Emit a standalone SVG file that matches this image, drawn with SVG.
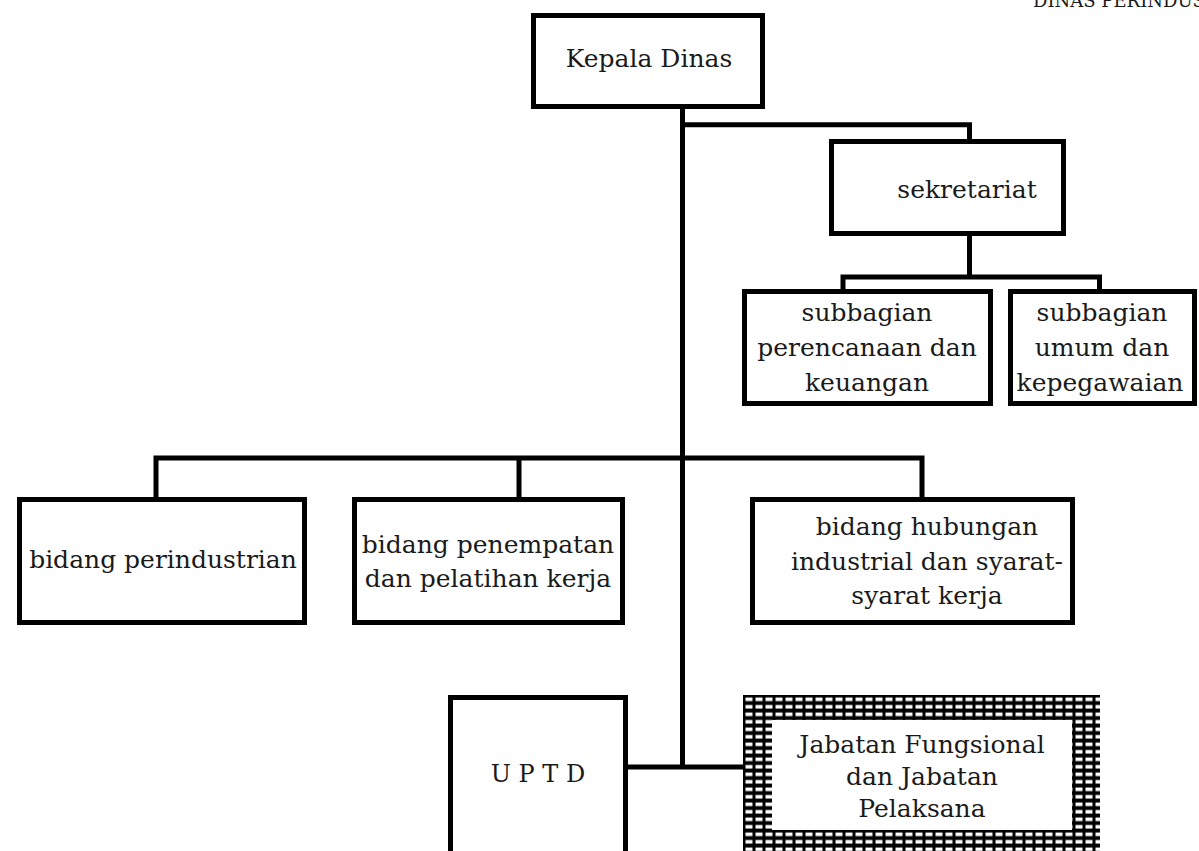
<svg xmlns="http://www.w3.org/2000/svg" width="1199" height="851" viewBox="0 0 1199 851">
<defs>
<style>
.box{fill:#fff;stroke:#000;stroke-width:5}
.ln{fill:none;stroke:#000;stroke-width:5;stroke-linejoin:miter}
text{font-family:"DejaVu Serif","Liberation Serif",serif;font-size:25px;fill:#1a1a1a;text-anchor:middle}
</style>
<pattern id="grid" width="10" height="7.5" patternUnits="userSpaceOnUse" x="743" y="695">
<rect width="10" height="7.5" fill="#000"/>
<rect x="2.5" y="2.5" width="7" height="3.6" fill="#fff"/>
</pattern>
</defs>
<rect width="1199" height="851" fill="#fff"/>
<text x="1033" y="7" style="text-anchor:start;font-size:18px">DINAS PERINDUST</text>
<g id="connectors">
<path class="ln" d="M682.5 109 V769"/>
<path class="ln" d="M682.5 124.7 H969.5 V139"/>
<path class="ln" d="M969.5 236 V277"/>
<path class="ln" d="M843 289 V277 H1099.5 V289"/>
<path class="ln" d="M156 497 V458 H922 V497"/>
<path class="ln" d="M519 458 V497"/>
<path class="ln" d="M628 767 H743"/>
</g>
<g id="kepala">
<rect class="box" x="533.5" y="15.5" width="229" height="91"/>
<text x="649" y="67">Kepala Dinas</text>
</g>
<g id="sekretariat">
<rect class="box" x="831.5" y="141.5" width="232" height="92"/>
<text x="967" y="198">sekretariat</text>
</g>
<g id="sub1">
<rect class="box" x="744.5" y="291.5" width="246" height="112"/>
<text x="867" y="321">subbagian</text>
<text x="867" y="356">perencanaan dan</text>
<text x="867" y="391">keuangan</text>
</g>
<g id="sub2">
<rect class="box" x="1010.5" y="291.5" width="184" height="112"/>
<text x="1102" y="321">subbagian</text>
<text x="1102" y="356">umum dan</text>
<text x="1100" y="391">kepegawaian</text>
</g>
<g id="bidang1">
<rect class="box" x="19.5" y="499.5" width="285" height="123"/>
<text x="163" y="568">bidang perindustrian</text>
</g>
<g id="bidang2">
<rect class="box" x="354.5" y="499.5" width="268" height="123"/>
<text x="488" y="553">bidang penempatan</text>
<text x="488" y="587">dan pelatihan kerja</text>
</g>
<g id="bidang3">
<rect class="box" x="752.5" y="499.5" width="320" height="123"/>
<text x="927" y="535">bidang hubungan</text>
<text x="927" y="570">industrial dan syarat-</text>
<text x="927" y="604">syarat kerja</text>
</g>
<g id="uptd">
<rect class="box" x="450.5" y="697.5" width="175" height="170"/>
<text x="538" y="782" style="font-size:24px">U P T D</text>
</g>
<g id="jabatan">
<rect x="743" y="695" width="357" height="160" fill="url(#grid)"/>
<rect x="772" y="720" width="300" height="110" fill="#fff"/>
<text x="922" y="753">Jabatan Fungsional</text>
<text x="922" y="785">dan Jabatan</text>
<text x="922" y="817">Pelaksana</text>
</g>
</svg>
